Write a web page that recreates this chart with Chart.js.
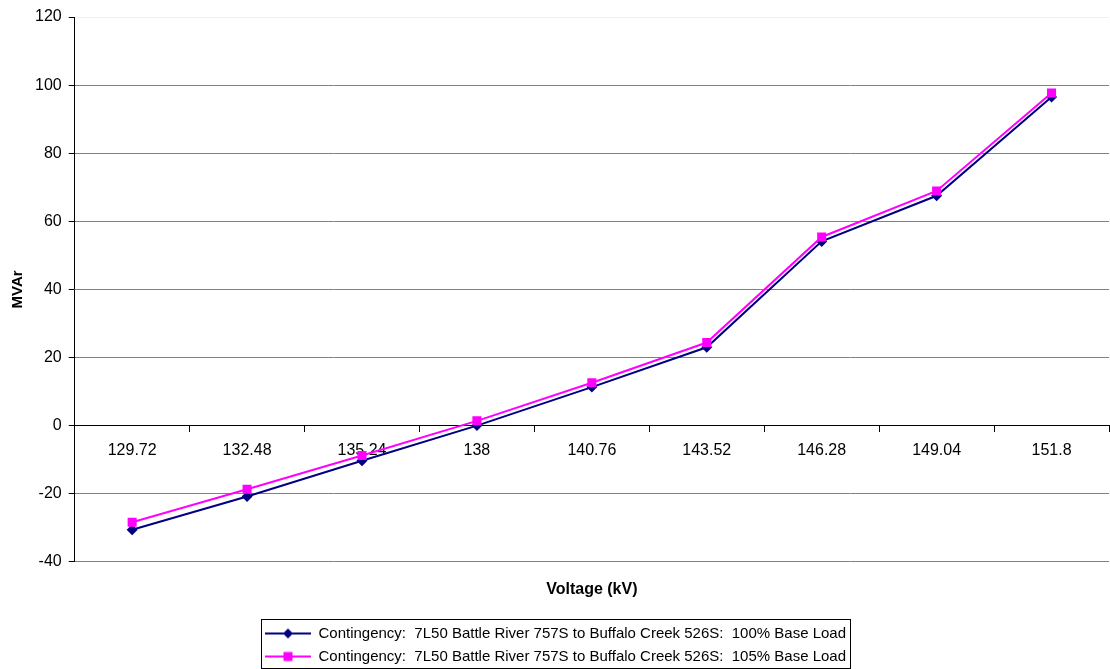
<!DOCTYPE html>
<html>
<head>
<meta charset="utf-8">
<script src="https://cdn.jsdelivr.net/npm/chart.js@4/dist/chart.umd.min.js"></script>
<style>
  html, body { margin: 0; padding: 0; background: #fff; }
  #wrap { width: 1110px; height: 669px; position: relative; }
</style>
</head>
<body>
<div id="wrap"><canvas id="mvarChart"></canvas></div>
<script>
// voltage categories (kV)
const voltages = ["129.72", "132.48", "135.24", "138", "140.76", "143.52", "146.28", "149.04", "151.8"];

// MVAr
const load100 = [-30.6, -20.8, -10.3, 0.0, 11.3, 23.0, 54.1, 67.5, 96.5];
const load105 = [-28.4, -18.7, -8.8, 1.4, 12.6, 24.4, 55.4, 68.9, 97.7];

const seriesNames = [
  "Contingency:  7L50 Battle River 757S to Buffalo Creek 526S:  100% Base Load",
  "Contingency:  7L50 Battle River 757S to Buffalo Creek 526S:  105% Base Load"
];

const yTicks = [-40, -20, 0, 20, 40, 60, 80, 100, 120];

const FONT = "'Liberation Sans', Arial, sans-serif";
const NAVY = "#000080";
const MAGENTA = "#FF00FF";

// little line + marker picture for the legend
function legendIcon(color, shape) {
  const c = document.createElement("canvas");
  c.width = 46;
  c.height = 12;
  const g = c.getContext("2d");
  g.strokeStyle = color;
  g.lineWidth = 2;
  g.beginPath();
  g.moveTo(0, 6);
  g.lineTo(46, 6);
  g.stroke();
  g.fillStyle = color;
  if (shape === "diamond") {
    g.beginPath();
    g.moveTo(23, 1);
    g.lineTo(28, 6);
    g.lineTo(23, 11);
    g.lineTo(18, 6);
    g.closePath();
    g.fill();
  } else {
    g.fillRect(18.5, 1.5, 9, 9);
  }
  return c;
}

const icons = [legendIcon(NAVY, "diamond"), legendIcon(MAGENTA, "square")];

// box round the legend, like the Excel one
const legendBorder = {
  id: "legendBorder",
  afterDraw(chart) {
    const hb = chart.legend && chart.legend.legendHitBoxes;
    if (!hb || !hb.length) return;
    const left = Math.min(...hb.map(h => h.left)) - 4;
    const right = Math.max(...hb.map(h => h.left + h.width)) + 4;
    const top = Math.min(...hb.map(h => h.top)) - 7;
    const bottom = Math.min(Math.max(...hb.map(h => h.top + h.height)) + 5, chart.height - 1.5);
    const ctx = chart.ctx;
    ctx.save();
    ctx.strokeStyle = "#000";
    ctx.lineWidth = 1;
    ctx.strokeRect(Math.round(left) + 0.5, Math.round(top) + 0.5, Math.round(right - left), Math.round(bottom - top));
    ctx.restore();
  }
};

const ctx = document.getElementById("mvarChart").getContext("2d");

new Chart(ctx, {
  type: "line",
  data: {
    labels: voltages,
    datasets: [
      {
        label: seriesNames[0],
        data: load100,
        borderColor: NAVY,
        backgroundColor: NAVY,
        borderWidth: 2,
        pointStyle: "rectRot",
        pointRadius: 5.5,
        pointBorderWidth: 0,
        tension: 0,
        order: 1
      },
      {
        label: seriesNames[1],
        data: load105,
        borderColor: MAGENTA,
        backgroundColor: MAGENTA,
        borderWidth: 2,
        pointStyle: "rect",
        pointRadius: 6.4,
        pointBorderWidth: 0,
        tension: 0,
        order: 0
      }
    ]
  },
  options: {
    responsive: true,
    maintainAspectRatio: false,
    animation: false,
    layout: {
      // no extra room for the markers, the plot runs to the right edge
      autoPadding: false,
      padding: { top: 17, right: 1, left: 2, bottom: -5 }
    },
    plugins: {
      tooltip: { enabled: false },
      legend: {
        position: "bottom",
        labels: {
          usePointStyle: true,
          pointStyleWidth: 46,
          padding: 8,
          color: "#000",
          font: { family: FONT, size: 15 },
          generateLabels: chart => chart.data.datasets.map((ds, i) => ({
            text: ds.label,
            pointStyle: icons[i],
            fillStyle: ds.borderColor,
            strokeStyle: ds.borderColor,
            lineWidth: 0,
            hidden: false,
            datasetIndex: i
          }))
        }
      }
    },
    scales: {
      x: {
        position: { y: 0 },
        offset: true,
        grid: {
          offset: true,
          drawOnChartArea: false,
          tickLength: 6,
          color: "#000"
        },
        border: { color: "#000" },
        ticks: {
          color: "#000",
          padding: 9,
          maxRotation: 0,
          font: { family: FONT, size: 16 }
        }
      },
      xTitle: {
        type: "category",
        position: "bottom",
        offset: true,
        grid: { display: false },
        border: { display: false },
        ticks: { display: false },
        title: {
          display: true,
          text: "Voltage (kV)",
          color: "#000",
          font: { family: FONT, size: 16, weight: "bold" },
          padding: { top: 10, bottom: 19 }
        }
      },
      y: {
        min: -40,
        max: 120,
        afterBuildTicks: axis => { axis.ticks = yTicks.map(v => ({ value: v })); },
        grid: {
          color: c => (c.tick && c.tick.value === 120) ? "#f0f0f0" : "#808080",
          tickColor: "#000",
          tickLength: 6
        },
        border: { color: "#000" },
        ticks: {
          color: "#000",
          padding: 7,
          font: { family: FONT, size: 16 }
        },
        title: {
          display: true,
          text: "MVAr",
          color: "#000",
          font: { family: FONT, size: 15, weight: "bold" },
          padding: { top: 7, bottom: 1 }
        }
      }
    }
  },
  plugins: [legendBorder]
});
</script>
</body>
</html>
